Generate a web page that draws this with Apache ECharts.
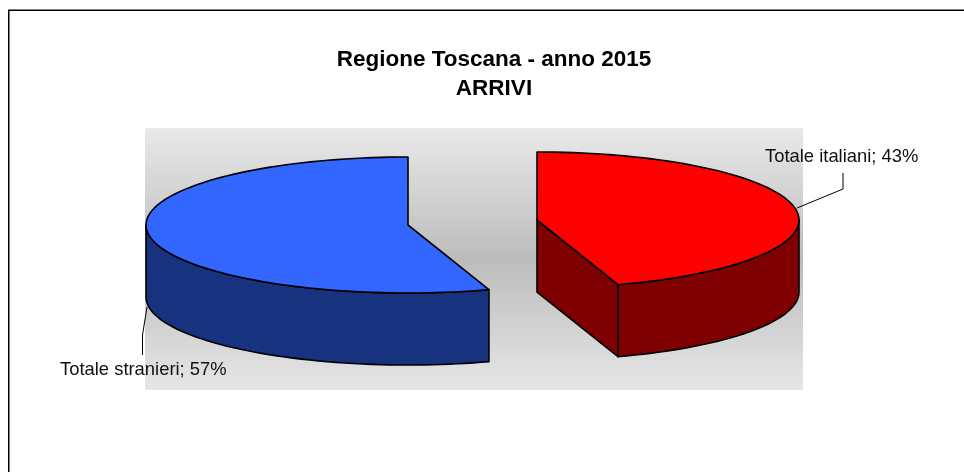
<!DOCTYPE html>
<html>
<head>
<meta charset="utf-8">
<style>
  html, body { margin: 0; padding: 0; background: #fff; }
  #chart { width: 964px; height: 472px; }
</style>
<script src="https://cdn.jsdelivr.net/npm/echarts@6/dist/echarts.min.js"></script>
</head>
<body>
<div id="chart"></div>
<script>
// values
const categories = ['Totale stranieri', 'Totale italiani'];
const shares = [57, 43];
const titleLines = ['Regione Toscana - anno 2015', 'ARRIVI'];

const topColors = ['#3366ff', '#ff0000'];
const sideColors = ['#17337f', '#7f0000'];

// the 3d view stretches the front of the pie a little, this is the extra sweep in degrees
const viewSkew = 7.2;
const RX = 262, RY = 68, DEPTH = 72;
const rad = Math.PI / 180;

// angles are measured clockwise from north, on the squashed ellipse
function ellipsePoint(c, a, dy) {
  return [c[0] + RX * Math.sin(a * rad), c[1] - RY * Math.cos(a * rad) + (dy || 0)];
}
function arc(c, from, to, dy) {
  const pts = [];
  const n = Math.ceil(Math.abs(to - from) / 2);
  for (let i = 0; i <= n; i++) {
    pts.push(ellipsePoint(c, from + (to - from) * i / n, dy));
  }
  return pts;
}
function shape(points, fill) {
  return {
    type: 'polygon',
    shape: { points: points },
    style: { fill: fill, stroke: '#000', lineWidth: 1.6, lineJoin: 'round' }
  };
}

const slices = [
  { center: [408, 225] },
  { center: [537, 220] }
];

function renderSlice(params, api) {
  const i = params.dataIndex;
  const c = slices[i].center;
  const redSweep = api.value(0) * 3.6 + (i === 1 ? viewSkew : -viewSkew);
  const kids = [];
  if (i === 0) {
    // goes counter clockwise from north, through west, to the front right
    const end = 360 - redSweep;
    kids.push(shape(arc(c, end, 180, 0).concat(arc(c, 180, 270, 0))
      .concat(arc(c, 270, 270, DEPTH)).concat(arc(c, 270, 180, DEPTH)).concat(arc(c, 180, end, DEPTH)), sideColors[i]));
    kids.push(shape([c].concat(arc(c, end, 360, 0)), topColors[i]));
  } else {
    const end = redSweep;
    const corner = ellipsePoint(c, end, 0);
    kids.push(shape([c, corner, [corner[0], corner[1] + DEPTH], [c[0], c[1] + DEPTH]], sideColors[i]));
    kids.push(shape(arc(c, 90, end, 0).concat(arc(c, end, 90, DEPTH)), sideColors[i]));
    kids.push(shape([c].concat(arc(c, 0, end, 0)), topColors[i]));
  }
  return { type: 'group', children: kids };
}

const chart = echarts.init(document.getElementById('chart'), null, { renderer: 'canvas' });

const TITLE_FONT = 'bold 22.5px "Liberation Sans", Arial, sans-serif';
const LABEL_FONT = '18.4px "Liberation Sans", Arial, sans-serif';

chart.setOption({
  animation: false,
  backgroundColor: '#fff',
  graphic: [
    {
      type: 'polyline', silent: true,
      shape: { points: [[8.75, 472], [8.75, 10.25], [964, 10.25]] },
      style: { fill: null, stroke: '#000', lineWidth: 1.5 }
    },
    {
      type: 'rect', silent: true, z: -1,
      shape: { x: 145, y: 128, width: 658, height: 262 },
      style: {
        fill: new echarts.graphic.LinearGradient(0, 0, 0, 1, [
          { offset: 0, color: '#e9e9e9' },
          { offset: 0.5, color: '#bcbcbc' },
          { offset: 1, color: '#e6e6e6' }
        ])
      }
    },
    {
      type: 'polyline', silent: true, z: 5,
      shape: { points: [[147, 307], [142.5, 335], [142.5, 355]] },
      style: { fill: null, stroke: '#000', lineWidth: 1 }
    },
    {
      type: 'polyline', silent: true, z: 5,
      shape: { points: [[797, 208], [843, 189], [843, 173]] },
      style: { fill: null, stroke: '#000', lineWidth: 1 }
    },
    {
      type: 'text', z: 6, x: 494, y: 60,
      style: { text: titleLines[0], fill: '#000', align: 'center', verticalAlign: 'middle', font: TITLE_FONT }
    },
    {
      type: 'text', z: 6, x: 494, y: 89,
      style: { text: titleLines[1], fill: '#000', align: 'center', verticalAlign: 'middle', font: TITLE_FONT }
    },
    {
      type: 'text', z: 6, x: 60, y: 370,
      style: {
        text: categories[0] + '; ' + shares[0] + '%', fill: '#111', align: 'left', verticalAlign: 'middle',
        font: LABEL_FONT
      }
    },
    {
      type: 'text', z: 6, x: 765, y: 157,
      style: {
        text: categories[1] + '; ' + shares[1] + '%', fill: '#111', align: 'left', verticalAlign: 'middle',
        font: LABEL_FONT
      }
    }
  ],
  series: [{
    type: 'custom',
    coordinateSystem: 'none',
    renderItem: renderSlice,
    data: shares.map(function (v, i) { return { name: categories[i], value: [v] }; })
  }]
});
</script>
</body>
</html>
